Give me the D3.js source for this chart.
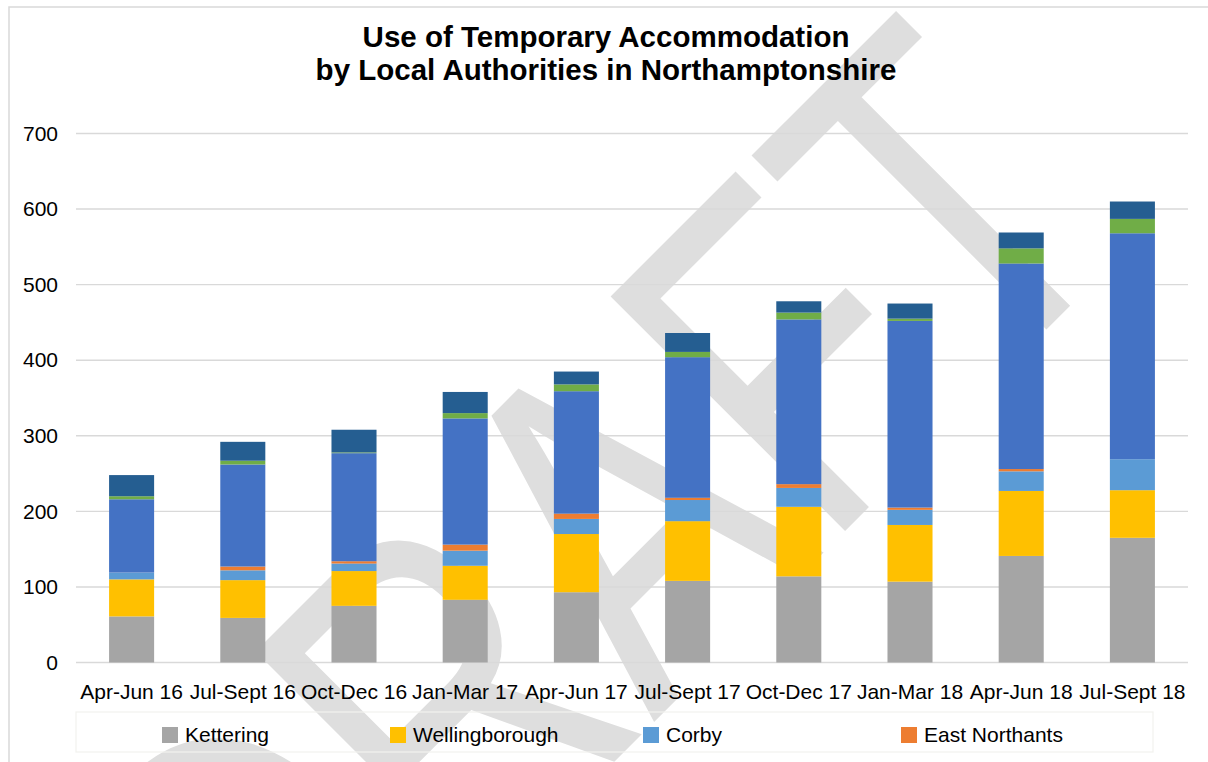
<!DOCTYPE html>
<html>
<head>
<meta charset="utf-8">
<script src="https://cdn.jsdelivr.net/npm/d3@7"></script>
<style>
  html, body { margin: 0; padding: 0; background: #ffffff; }
  svg { display: block; }
  text { font-family: "Liberation Sans", Arial, sans-serif; }
</style>
</head>
<body>
<svg id="chart" width="1208" height="762"></svg>
<script>
// ---------- data ----------
const categories = ["Apr-Jun 16", "Jul-Sept 16", "Oct-Dec 16", "Jan-Mar 17", "Apr-Jun 17",
                    "Jul-Sept 17", "Oct-Dec 17", "Jan-Mar 18", "Apr-Jun 18", "Jul-Sept 18"];
const kettering      = [61, 59, 75, 83, 93, 108, 114, 107, 141, 165];
const wellingborough = [49, 50, 46, 45, 77, 79, 92, 75, 86, 63];
const corby          = [9, 13, 10, 20, 20, 28, 25, 20, 26, 41];
const eastNorthants  = [0, 5, 3, 8, 7, 3, 5, 3, 3, 0];
const northampton    = [97, 135, 143, 167, 162, 186, 218, 247, 272, 299];
const daventry       = [4, 5, 1, 7, 9, 7, 9, 3, 20, 19];
const southNorthants = [28, 25, 30, 28, 17, 25, 15, 20, 21, 23];
const seriesNames  = ["Kettering", "Wellingborough", "Corby", "East Northants",
                      "Northampton", "Daventry", "South Northants"];
const seriesColors = ["#a5a5a5", "#ffc000", "#5b9bd5", "#ed7d31", "#4472c4", "#70ad47", "#255e91"];
const legendShown  = ["Kettering", "Wellingborough", "Corby", "East Northants"];
const yTicks = [0, 100, 200, 300, 400, 500, 600, 700];
const titleLines = ["Use of Temporary Accommodation", "by Local Authorities in Northamptonshire"];
const watermark = "DRAFT";

const seriesValues = [kettering, wellingborough, corby, eastNorthants, northampton, daventry, southNorthants];
const table = categories.map((c, i) => {
  const row = { category: c };
  seriesNames.forEach((s, j) => { row[s] = seriesValues[j][i]; });
  return row;
});

// ---------- layout ----------
const svg = d3.select("#chart");
const plot = { left: 76, right: 1188, top: 133.5, bottom: 662.5 };

const x = d3.scaleBand().domain(categories).range([plot.left, plot.right])
  .paddingInner(0.595).paddingOuter(0.2975);
const y = d3.scaleLinear().domain([0, 700]).range([plot.bottom, plot.top]);
const color = d3.scaleOrdinal().domain(seriesNames).range(seriesColors);

// chart frame
svg.append("rect").attr("x", 9).attr("y", 7).attr("width", 1400).attr("height", 1000)
  .attr("fill", "#ffffff").attr("stroke", "#d9d9d9").attr("stroke-width", 1.5);

// watermark (behind everything)
svg.append("text")
  .attr("transform", "translate(688,688) rotate(-45) scale(0.75,1)")
  .attr("x", -761).attr("y", 0)
  .attr("font-size", 482)
  .attr("fill", "#dedede")
  .text(watermark);

// gridlines
svg.append("g").selectAll("line").data(yTicks).join("line")
  .attr("x1", plot.left).attr("x2", plot.right)
  .attr("y1", d => y(d)).attr("y2", d => y(d))
  .attr("stroke", "#d9d9d9").attr("stroke-width", 1.4);

// y axis labels
const yAxis = d3.axisLeft(y).tickValues(yTicks).tickSize(0).tickPadding(0);
const gy = svg.append("g").attr("transform", `translate(58,0)`).call(yAxis);
gy.select(".domain").remove();
gy.selectAll("text").attr("font-size", 21).attr("fill", "#000")
  .attr("font-family", "Liberation Sans, Arial, sans-serif");

// bars
const stack = d3.stack().keys(seriesNames);
const layers = stack(table);
svg.append("g").selectAll("g").data(layers).join("g")
  .attr("fill", d => color(d.key))
  .selectAll("rect").data(d => d).join("rect")
  .attr("x", d => x(d.data.category))
  .attr("width", x.bandwidth())
  .attr("y", d => y(d[1]))
  .attr("height", d => Math.max(0, y(d[0]) - y(d[1])));

// x axis labels
const xAxis = d3.axisBottom(x).tickSize(0).tickPadding(0);
const gx = svg.append("g").attr("transform", `translate(0,${plot.bottom})`).call(xAxis);
gx.select(".domain").remove();
gx.selectAll("text").attr("font-size", 21).attr("fill", "#000")
  .attr("dy", null).attr("y", 36)
  .attr("font-family", "Liberation Sans, Arial, sans-serif");

// title
svg.append("g").selectAll("text").data(titleLines).join("text")
  .attr("x", 606).attr("y", (d, i) => 47 + i * 33)
  .attr("text-anchor", "middle")
  .attr("font-size", 29.5).attr("font-weight", "bold").attr("fill", "#000")
  .text(d => d);

// legend
const legendBox = { x: 76, y: 712, w: 1077, h: 40 };
svg.append("rect").attr("x", legendBox.x).attr("y", legendBox.y)
  .attr("width", legendBox.w).attr("height", legendBox.h)
  .attr("fill", "none").attr("stroke", "#f2f2ee").attr("stroke-width", 1.2);
const legendColStarts = [162, 390, 643, 901];
const lg = svg.append("g").selectAll("g").data(legendShown).join("g")
  .attr("transform", (d, i) => `translate(${legendColStarts[i]},${legendBox.y})`);
lg.append("rect").attr("x", 0).attr("y", 15).attr("width", 16).attr("height", 16)
  .attr("fill", d => color(d));
lg.append("text").attr("x", 23).attr("y", 30).attr("font-size", 21).attr("fill", "#000")
  .text(d => d);
</script>
</body>
</html>
